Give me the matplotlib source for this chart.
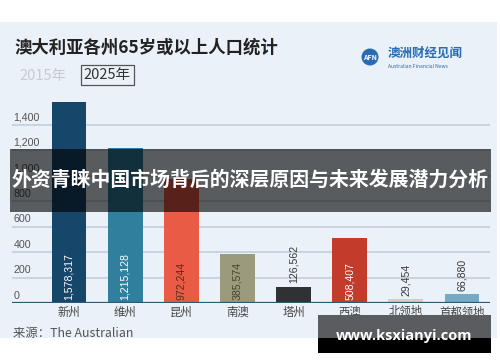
import matplotlib
matplotlib.use("Agg")
import matplotlib.pyplot as plt
from matplotlib.patches import Rectangle, Ellipse

plt.rcParams['font.family'] = ['Noto Sans CJK SC', 'DejaVu Sans']

# ---- data ----
regions = ["新州", "维州", "昆州", "南澳", "塔州", "西澳", "北领地", "首都领地"]
values = [1578.317, 1215.128, 972.244, 385.574, 126.562, 508.407, 29.454, 66.880]  # thousands
value_labels = ["1,578,317", "1,215,128", "972,244", "385,574", "126,562", "508,407", "29,454", "66,880"]
bar_colors = ["#17466b", "#2f7f9d", "#e95b45", "#9c9a7c", "#2f3234", "#c23b2b", "#cfcfc4", "#76aac3"]
label_inside = [True, True, True, True, False, True, False, False]
label_colors = ["white", "white", "#5a2a22", "#45452f", "#3a3a3a", "white", "#3a3a3a", "#3a3a3a"]
yticks = [0, 200, 400, 600, 800, 1000, 1200, 1400]
ytick_labels = ["0", "200", "400", "600", "800", "1,000", "1,200", "1,400"]

title = "澳大利亚各州65岁或以上人口统计"
banner = "外资青睐中国市场背后的深层原因与未来发展潜力分析"
source = "来源：The Australian"
site = "www.ksxianyi.com"

W, H = 500, 362
fig = plt.figure(figsize=(W / 100, H / 100), dpi=100)
fig.patch.set_facecolor("white")

def fx(px):
    return px / W

def fy(py):
    return 1 - py / H

# panel background
fig.add_artist(Rectangle((0, fy(338)), fx(497), (338 - 22) / H, transform=fig.transFigure,
                         facecolor="#eaf1f8", edgecolor="none", zorder=-10))

# chart axes
ax = fig.add_axes([fx(12), fy(303), fx(490) - fx(12), 204 / H])
ax.set_facecolor("none")
ax.set_xlim(-1.015, 7.5)
ax.set_ylim(0, 1600)
for s in ax.spines.values():
    s.set_visible(False)

for t in yticks[1:]:
    ax.axhline(t, color="#c8d4df", lw=1.4, zorder=1)
ax.axhline(0, color="#2c5a75", lw=1.6, zorder=3)

for t, lab in zip(yticks, ytick_labels):
    ax.annotate(lab, xy=(-0.99, t), xytext=(0, 1.5), textcoords="offset points",
                ha="left", va="bottom", fontsize=7.7, color="#555555",
                family=["Liberation Sans", "DejaVu Sans"])

x = list(range(len(regions)))
ax.bar(x, values, width=0.62, color=bar_colors, zorder=2)

for xi, v, lab, inside, c in zip(x, values, value_labels, label_inside, label_colors):
    base = 0 if inside else v
    ax.annotate(lab, xy=(xi, base), xytext=(0, 2.5), textcoords="offset points",
                rotation=90, ha="center", va="bottom", fontsize=7.6, color=c,
                family=["Liberation Sans", "DejaVu Sans"], zorder=4)

ax.set_yticks([])
ax.set_xticks(x)
ax.set_xticklabels(regions, fontsize=8.2, color="#444444")
ax.tick_params(axis="x", length=0, pad=2.5)

# title and year selector
fig.text(fx(14), fy(48), title, fontsize=12.5, fontweight="bold", color="#222222",
         ha="left", va="center")
fig.text(fx(19), fy(76), "2015年", fontsize=10.5, color="#c8ccd0", ha="left", va="center")
fig.text(fx(107.5), fy(75), "2025年", fontsize=10.5, color="#333333", ha="center", va="center",
         bbox=dict(boxstyle="square,pad=0.2", facecolor="none", edgecolor="#555555", lw=0.9))

# logo
fig.add_artist(Ellipse((fx(370), fy(57)), 17 / W, 17 / H, transform=fig.transFigure,
                       facecolor="#2a6cb3", edgecolor="none", zorder=2))
fig.text(fx(370), fy(57), "AFN", fontsize=5, color="white", ha="center", va="center",
         fontweight="bold", zorder=3)
fig.text(fx(388), fy(53), "澳洲财经见闻", fontsize=9, color="#2a6cb3", ha="left", va="center",
         fontweight="bold")
fig.text(fx(388), fy(67), "Australian Financial News", fontsize=3.6, color="#2a6cb3",
         ha="left", va="center")

# source
fig.text(fx(13), fy(333), source, fontsize=8.9, color="#555555", ha="left", va="center")

# overlay banner
fig.add_artist(Rectangle((fx(10), fy(212)), fx(491) - fx(10), (212 - 149) / H,
                         transform=fig.transFigure, facecolor="black", alpha=0.62,
                         edgecolor="none", zorder=5))
fig.text(fx(250), fy(179), banner, fontsize=14.3, fontweight="bold", color="white",
         ha="center", va="center", zorder=6)

# site box
fig.add_artist(Rectangle((fx(318), fy(338)), fx(491) - fx(318), (338 - 315) / H,
                         transform=fig.transFigure, facecolor="#5a5c5f",
                         edgecolor="none", zorder=5))
fig.add_artist(Rectangle((fx(318), fy(353)), fx(491) - fx(318), (353 - 338) / H,
                         transform=fig.transFigure, facecolor="black",
                         edgecolor="none", zorder=5))
fig.text(fx(404), fy(336), site, fontsize=10.5, fontweight="bold", color="white",
         ha="center", va="center", zorder=6, family=["Open Sans", "DejaVu Sans"])

fig.savefig("out.png", dpi=100, facecolor="white")
